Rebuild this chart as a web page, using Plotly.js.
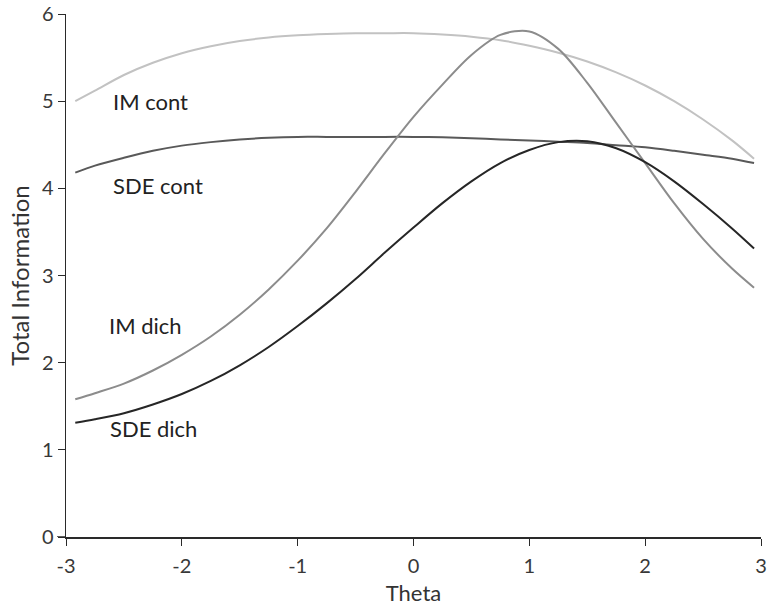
<!DOCTYPE html>
<html>
<head>
<meta charset="utf-8">
<script src="https://cdn.plot.ly/plotly-3.0.1.min.js"></script>
<style>html,body{margin:0;padding:0;background:#fff;}#chart{width:768px;height:609px;}</style>
</head>
<body>
<div id="chart"></div>
<script>
const theta = [-2.92, -2.75, -2.5, -2.25, -2, -1.75, -1.5, -1.25, -1, -0.75, -0.5, -0.25, 0, 0.25, 0.5, 0.75, 1, 1.25, 1.5, 1.75, 2, 2.25, 2.5, 2.75, 2.94];
const imCont  = [5.00, 5.12, 5.30, 5.44, 5.55, 5.63, 5.69, 5.73, 5.755, 5.77, 5.78, 5.78, 5.78, 5.765, 5.74, 5.70, 5.635, 5.555, 5.455, 5.33, 5.18, 5.00, 4.79, 4.55, 4.34];
const sdeCont = [4.18, 4.26, 4.35, 4.43, 4.49, 4.53, 4.56, 4.58, 4.59, 4.59, 4.59, 4.59, 4.59, 4.585, 4.575, 4.56, 4.55, 4.535, 4.52, 4.495, 4.47, 4.43, 4.385, 4.34, 4.29];
const imDich  = [1.58, 1.65, 1.76, 1.91, 2.09, 2.30, 2.55, 2.84, 3.17, 3.54, 3.96, 4.40, 4.82, 5.19, 5.53, 5.76, 5.80, 5.60, 5.21, 4.75, 4.29, 3.83, 3.42, 3.08, 2.86];
const sdeDich = [1.31, 1.35, 1.42, 1.52, 1.64, 1.79, 1.97, 2.18, 2.42, 2.68, 2.96, 3.26, 3.55, 3.83, 4.08, 4.29, 4.44, 4.53, 4.54, 4.46, 4.30, 4.08, 3.82, 3.54, 3.31];

const xTickVals = [-3, -2, -1, 0, 1, 2, 3];
const yTickVals = [0, 1, 2, 3, 4, 5, 6];

const seriesNames = ["IM cont", "SDE cont", "IM dich", "SDE dich"];
const seriesData = [imCont, sdeCont, imDich, sdeDich];
const seriesColors = ["#c2c2c2", "#595959", "#8c8c8c", "#262626"];
const labelPos = [[-2.61, 5.0], [-2.61, 4.03], [-2.65, 2.43], [-2.64, 1.24]];

const traces = seriesData.map((d, i) => ({
  x: theta, y: d, type: "scatter", mode: "lines", name: seriesNames[i],
  line: {color: seriesColors[i], width: 2, shape: "spline", smoothing: 0.9},
  hoverinfo: "skip"
}));

const fam = "Lato, 'Open Sans', sans-serif";

const annotations = seriesNames.map((n, i) => ({
  x: labelPos[i][0], y: labelPos[i][1], xref: "x", yref: "y",
  text: n, showarrow: false, xanchor: "left", yanchor: "middle",
  font: {family: fam, size: 22, color: "#222"}
}));

const axisColor = "#2a2a2a";
const shapes = [
  {type: "line", xref: "paper", yref: "y", x0: -0.013, x1: 0, y0: 0, y1: 0, line: {color: axisColor, width: 1.5}},
  {type: "line", xref: "x", yref: "paper", x0: -3, x1: -3, y0: -0.008, y1: 0, line: {color: axisColor, width: 1.5}}
];

const layout = {
  width: 768, height: 609,
  margin: {l: 66, r: 7, t: 14, b: 72, pad: 0},
  paper_bgcolor: "#fff", plot_bgcolor: "#fff",
  showlegend: false,
  font: {family: fam, color: "#333", size: 20},
  xaxis: {
    range: [-3, 3], tickvals: xTickVals, ticktext: xTickVals.map(String),
    showgrid: false, zeroline: false, showline: true, linecolor: axisColor, linewidth: 1.5,
    ticks: "outside", ticklen: 7, tickcolor: axisColor, ticklabelstandoff: 3,
    tickfont: {size: 20, color: "#383838", family: fam},
    title: {text: "Theta", font: {size: 22, color: "#333", family: fam}, standoff: 10}
  },
  yaxis: {
    range: [0, 6], tickvals: yTickVals, ticktext: yTickVals.map(String),
    showgrid: false, zeroline: false, showline: true, linecolor: axisColor, linewidth: 1.5,
    ticks: "outside", ticklen: 7, tickcolor: axisColor,
    tickfont: {size: 20, color: "#383838", family: fam},
    title: {text: "Total Information", font: {size: 24, color: "#333", family: fam}, standoff: 5}
  },
  shapes: shapes,
  annotations: annotations
};

Plotly.newPlot("chart", traces, layout, {displayModeBar: false, staticPlot: true});
</script>
</body>
</html>
